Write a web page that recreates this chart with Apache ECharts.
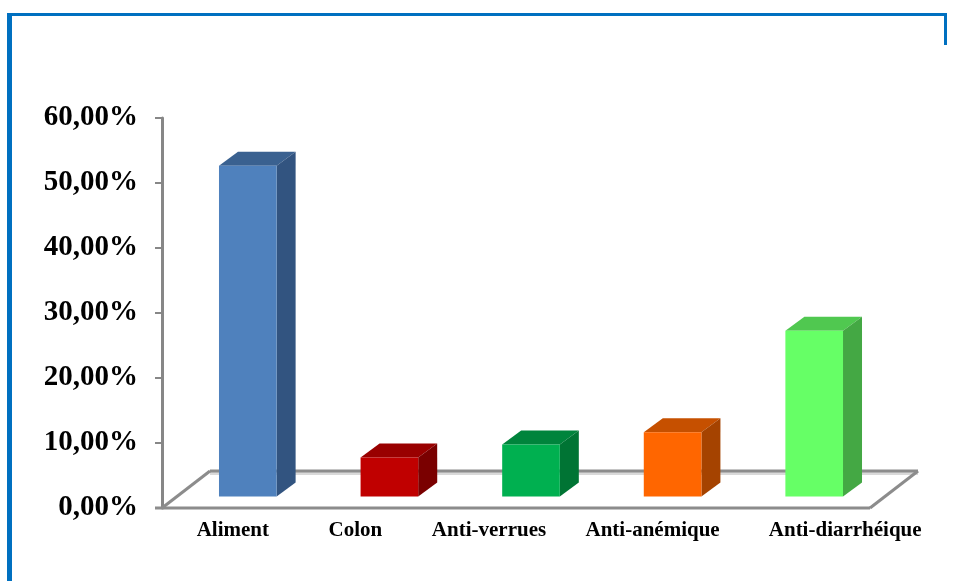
<!DOCTYPE html>
<html>
<head>
<meta charset="utf-8">
<script src="https://cdn.jsdelivr.net/npm/echarts@6/dist/echarts.min.js"></script>
<style>
  html, body { margin: 0; padding: 0; background: #fff; }
  #chart { position: absolute; left: 0; top: 0; width: 955px; height: 581px; }
</style>
</head>
<body>
<div id="chart"></div>
<script>
// Usage categories and their share (percent)
const categories = ['Aliment', 'Colon', 'Anti-verrues', 'Anti-anémique', 'Anti-diarrhéique'];
const shares = [50.9, 6.0, 8.0, 9.9, 25.5];

// Face colours per bar: front, top, side
const frontColors = ['#4F81BD', '#C00000', '#00B050', '#FF6600', '#66FF66'];
const topColors   = ['#3A6190', '#990000', '#00843C', '#C65000', '#50C850'];
const sideColors  = ['#325480', '#7A0000', '#007434', '#A54300', '#44A844'];

// Y tick values
const yTicks = [0, 10, 20, 30, 40, 50, 60];

// Horizontal nudge of each category label (px, negative = left)
const labelNudge = [0, -19, -27, -5, 46];

const chart = echarts.init(document.getElementById('chart'));

// Oblique projection constants for the pseudo-3D look
const FLOOR_DX = 48, FLOOR_DY = -37;   // full floor depth
const FACE_DX = 15, FACE_DY = -11.5;   // bar front face depth
const BAR_DX = 19, BAR_DY = -14;       // bar depth
const BAR_RATIO = 0.407;               // bar width relative to category band

const serif = '"Liberation Serif", "Times New Roman", serif';

function fmtPct(v) {
  return v.toFixed(2).replace('.', ',') + '%';
}

const xData = categories.map(function (name, i) {
  const s = labelNudge[i];
  return {
    value: name,
    textStyle: { padding: s < 0 ? [0, -2 * s, 0, 0] : [0, 0, 0, 2 * s] }
  };
});

const option = {
  animation: false,
  backgroundColor: '#ffffff',
  graphic: [
    // blue outer frame
    { type: 'rect', shape: { x: 7, y: 13, width: 5, height: 570 }, style: { fill: '#0070C0' }, z: 100 },
    { type: 'rect', shape: { x: 7, y: 13, width: 940, height: 3 }, style: { fill: '#0070C0' }, z: 100 },
    { type: 'rect', shape: { x: 944, y: 13, width: 3, height: 32 }, style: { fill: '#0070C0' }, z: 100 }
  ],
  grid: { left: 162, right: 85, top: 118, bottom: 73 },
  xAxis: {
    type: 'category',
    data: xData,
    axisLine: { show: false },
    axisTick: { show: false },
    axisLabel: {
      interval: 0,
      hideOverlap: false,
      color: '#000',
      fontFamily: serif,
      fontWeight: 'bold',
      fontSize: 21,
      margin: 12
    }
  },
  yAxis: {
    type: 'value',
    min: 0,
    max: 60,
    interval: 10,
    splitLine: { show: false },
    axisLine: { show: true, lineStyle: { color: '#878787', width: 3 } },
    axisTick: { show: true, length: 7, lineStyle: { color: '#878787', width: 2 } },
    axisLabel: {
      color: '#000',
      fontFamily: serif,
      fontWeight: 'bold',
      fontSize: 29,
      margin: 24,
      formatter: function (v) { return yTicks.indexOf(v) >= 0 ? fmtPct(v) : ''; }
    }
  },
  series: [
    {
      // floor plane drawn from the grid bounds
      type: 'custom',
      z: 1,
      silent: true,
      data: [0],
      renderItem: function (params, api) {
        const cs = params.coordSys;
        const x0 = cs.x, x1 = cs.x + cs.width, y0 = cs.y + cs.height;
        const bx0 = x0 + FLOOR_DX, bx1 = x1 + FLOOR_DX, by = y0 + FLOOR_DY;
        return {
          type: 'group',
          children: [
            { type: 'line', shape: { x1: bx0, y1: by + 2.5, x2: bx1, y2: by + 2.5 },
              style: { stroke: '#d9d9d9', lineWidth: 3 } },
            { type: 'line', shape: { x1: bx0, y1: by, x2: bx1, y2: by },
              style: { stroke: '#8c8c8c', lineWidth: 3 } },
            { type: 'line', shape: { x1: x0, y1: y0, x2: bx0, y2: by },
              style: { stroke: '#8c8c8c', lineWidth: 3 } },
            { type: 'line', shape: { x1: x1, y1: y0, x2: bx1, y2: by },
              style: { stroke: '#8c8c8c', lineWidth: 3 } },
            { type: 'line', shape: { x1: x0 - 7, y1: y0, x2: x1, y2: y0 },
              style: { stroke: '#8c8c8c', lineWidth: 3 } }
          ]
        };
      }
    },
    {
      // 3D bars
      type: 'custom',
      z: 2,
      data: shares.map(function (v, i) { return [i, v]; }),
      encode: { x: 0, y: 1 },
      renderItem: function (params, api) {
        const i = api.value(0);
        const top = api.coord([i, api.value(1)]);
        const base = api.coord([i, 0]);
        const w = api.size([1, 0])[0] * BAR_RATIO;
        const L = top[0] - w / 2 + FACE_DX, R = L + w;
        const T = top[1] + FACE_DY, B = base[1] + FACE_DY;
        return {
          type: 'group',
          children: [
            { type: 'polygon',
              shape: { points: [[L, T], [R, T], [R + BAR_DX, T + BAR_DY], [L + BAR_DX, T + BAR_DY]] },
              style: { fill: topColors[i] } },
            { type: 'polygon',
              shape: { points: [[R, T], [R + BAR_DX, T + BAR_DY], [R + BAR_DX, B + BAR_DY], [R, B]] },
              style: { fill: sideColors[i] } },
            { type: 'rect',
              shape: { x: L, y: T, width: w, height: B - T },
              style: { fill: frontColors[i] } }
          ]
        };
      }
    }
  ]
};

chart.setOption(option);
</script>
</body>
</html>
